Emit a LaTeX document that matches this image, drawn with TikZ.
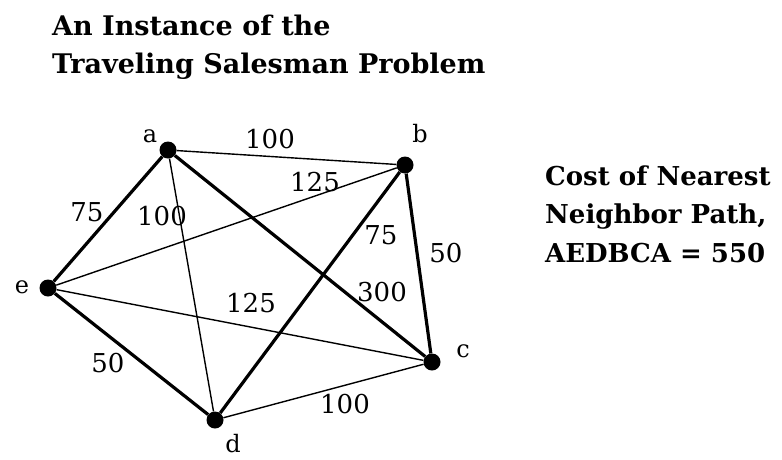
\documentclass[tikz,border=0pt]{standalone}
\usepackage{fontspec}
\setmainfont{DejaVu Serif}
\begin{document}
\begin{tikzpicture}[x=1pt,y=-1pt,
  vertex/.style={circle,fill=black,inner sep=0pt,minimum size=17pt},
  thickedge/.style={line width=3.2pt},
  thinedge/.style={line width=1.4pt},
  vlabel/.style={inner sep=0pt,font=\fontsize{24}{24}\selectfont},
  wlabel/.style={inner sep=0pt,font=\fontsize{26}{26}\selectfont},
  heading/.style={inner sep=0pt,anchor=base west,font=\fontsize{27}{27}\selectfont\bfseries},
  sidetext/.style={inner sep=0pt,anchor=base west,font=\fontsize{26}{26}\selectfont\bfseries}]
\useasboundingbox (0,0) rectangle (782,459);
% title
\node[heading] (t1) at (52,35) {An Instance of the};
\node[heading] (t2) at (52,73) {Traveling Salesman Problem};
% vertices
\node[vertex] (a) at (168,150) {};
\node[vertex] (b) at (405,165) {};
\node[vertex] (c) at (432,362) {};
\node[vertex] (d) at (215,420) {};
\node[vertex] (e) at (48,288) {};
% vertex names
\node[vlabel,anchor=base] (la) at (150,142) {a};
\node[vlabel,anchor=base] (lb) at (420,142) {b};
\node[vlabel,anchor=base] (lc) at (463,357) {c};
\node[vlabel,anchor=base] (ld) at (233,452) {d};
\node[vlabel,anchor=base] (le) at (22,293) {e};
% thin edges
\draw[thinedge] (a) -- (b);
\draw[thinedge] (a) -- (d);
\draw[thinedge] (e) -- (b);
\draw[thinedge] (e) -- (c);
\draw[thinedge] (d) -- (c);
% thick edges (nearest neighbour tour)
\draw[thickedge] (a) -- (e);
\draw[thickedge] (e) -- (d);
\draw[thickedge] (d) -- (b);
\draw[thickedge] (b) -- (c);
\draw[thickedge] (c) -- (a);
% weights
\node[wlabel] (wab) at (270,139) {100};
\node[wlabel] (web) at (315,182) {125};
\node[wlabel] (wae) at (87,212) {75};
\node[wlabel] (wad) at (162,216) {100};
\node[wlabel] (wdb) at (381,235) {75};
\node[wlabel] (wbc) at (446,253) {50};
\node[wlabel] (wac) at (382,292) {300};
\node[wlabel] (wec) at (251,303) {125};
\node[wlabel] (wed) at (108,363) {50};
\node[wlabel] (wdc) at (345,404) {100};
% cost text
\node[sidetext] (r1) at (545,185) {Cost of Nearest};
\node[sidetext] (r2) at (545,223) {Neighbor Path,};
\node[sidetext] (r3) at (545,262) {AEDBCA = 550};
\end{tikzpicture}
\end{document}
